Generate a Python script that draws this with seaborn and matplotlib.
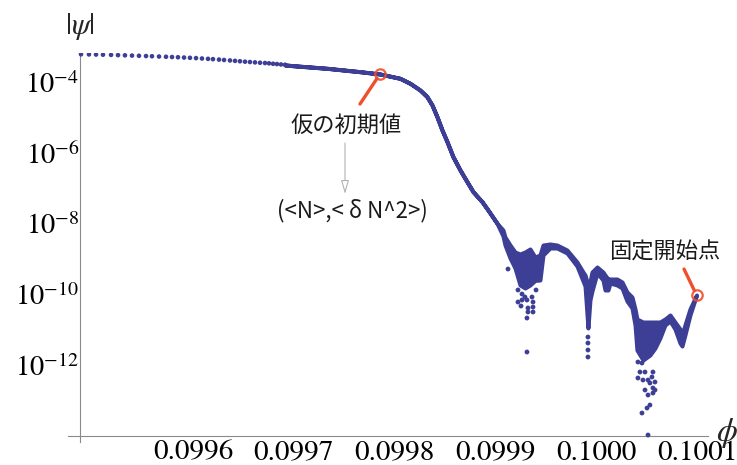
import numpy as np
import matplotlib
matplotlib.use("Agg")
import matplotlib.pyplot as plt
import seaborn as sns
from matplotlib.ticker import FixedLocator, FixedFormatter, LogLocator, NullFormatter

# ---- |psi| as a function of phi (values stored as log10 |psi|) ----
# isolated sample points at the start of the run
sparse_phi = [0.0994889, 0.0994968, 0.0995038, 0.0995107, 0.0995187, 0.0995256,
              0.0995325, 0.0995395, 0.0995464, 0.0995534, 0.0995593, 0.0995663,
              0.0995732, 0.0995792, 0.0995851, 0.0995911, 0.0995970, 0.0996030,
              0.0996089, 0.0996149, 0.0996198, 0.0996258, 0.0996308, 0.0996367,
              0.0996417, 0.0996466, 0.0996516, 0.0996565, 0.0996615, 0.0996665,
              0.0996714, 0.0996754, 0.0996794, 0.0996833, 0.0996873, 0.0996913]
sparse_log_psi = [-3.186, -3.189, -3.193, -3.197, -3.203, -3.209, -3.215, -3.222,
                  -3.228, -3.235, -3.241, -3.249, -3.256, -3.263, -3.270, -3.278,
                  -3.286, -3.294, -3.305, -3.315, -3.324, -3.336, -3.347, -3.360,
                  -3.372, -3.383, -3.395, -3.405, -3.415, -3.425, -3.433, -3.442,
                  -3.454, -3.463, -3.474, -3.482]

# densely sampled part: upper / lower envelope of the point cloud
curve_phi = [0.0996913, 0.0996992, 0.0997329, 0.0997657, 0.0997855, 0.0998053,
             0.0998153, 0.0998252, 0.0998321, 0.0998371, 0.0998420, 0.0998470,
             0.0998520, 0.0998579, 0.0998649, 0.0998718, 0.0998778, 0.0998867,
             0.0998926, 0.0999016,
             0.0999075, 0.0999095, 0.0999145, 0.0999194, 0.0999244, 0.0999293,
             0.0999343, 0.0999393, 0.0999442, 0.0999472, 0.0999541, 0.0999611,
             0.0999710, 0.0999809, 0.0999869, 0.0999889, 0.0999918, 0.0999938,
             0.0999958, 0.1000008, 0.1000067, 0.1000087, 0.1000117, 0.1000137,
             0.1000206, 0.1000256, 0.1000305, 0.1000355, 0.1000385, 0.1000404,
             0.1000464, 0.1000533, 0.1000583, 0.1000632, 0.1000682, 0.1000732,
             0.1000781, 0.1000831, 0.1000851, 0.1000880, 0.1000930, 0.1000995]
curve_log_top = [-3.488, -3.509, -3.583, -3.679, -3.745, -3.867,
                 -4.009, -4.199, -4.389, -4.624, -4.956, -5.333,
                 -5.665, -6.091, -6.468, -6.800, -7.084, -7.367,
                 -7.603, -7.980,
                 -8.170, -8.369, -8.596, -8.794, -8.851, -8.794,
                 -8.709, -8.936, -8.879, -8.596, -8.567, -8.596,
                 -8.738, -9.078, -9.362, -9.447, -9.730, -9.645,
                 -9.362, -9.220, -9.362, -9.447, -9.560, -9.560,
                 -9.560, -9.645, -9.929, -10.071, -10.411, -10.695,
                 -10.780, -10.780, -10.780, -10.780, -10.695, -10.582,
                 -10.780, -10.979, -11.149, -10.865, -10.411, -10.014]
curve_log_bottom = [-3.488, -3.509, -3.583, -3.679, -3.745, -3.867,
                    -4.009, -4.199, -4.389, -4.624, -4.956, -5.333,
                    -5.665, -6.091, -6.468, -6.800, -7.084, -7.367,
                    -7.603, -7.980,
                    -8.340, -8.596, -8.965, -9.248, -9.730, -9.816,
                    -9.730, -9.600, -9.589, -8.879, -8.681, -8.681,
                    -8.823, -9.191, -9.617, -9.759, -10.950, -10.156,
                    -9.901, -9.390, -9.589, -9.872, -9.872, -9.674,
                    -9.730, -9.816, -10.184, -10.383, -10.865, -11.574,
                    -11.858, -11.716, -11.518, -11.234, -10.865, -10.752,
                    -10.979, -11.376, -11.461, -11.149, -10.582, -10.014]

# stray points below the dense band
scatter_phi = [0.0999125, 0.0999224, 0.0999264, 0.0999293, 0.0999224, 0.0999264,
               0.0999313, 0.0999363, 0.0999373, 0.0999373, 0.0999373, 0.0999323,
               0.0999323, 0.0999313, 0.0999313, 0.0999403, 0.0999254,
               0.0999918, 0.0999918, 0.0999918, 0.0999918,
               0.1000414, 0.1000454, 0.1000434, 0.1000484, 0.1000414, 0.1000464,
               0.1000514, 0.1000553, 0.1000563, 0.1000533, 0.1000583, 0.1000484,
               0.1000563, 0.1000583, 0.1000514, 0.1000563, 0.1000533, 0.1000504,
               0.1000454, 0.1000514]
scatter_log_psi = [-9.277, -9.872, -9.986, -10.071, -10.213, -10.156,
                   -10.156, -10.071, -10.213, -10.355, -10.496, -10.383,
                   -10.496, -10.667, -11.631, -9.872, -10.326,
                   -11.206, -11.376, -11.574, -11.773,
                   -11.915, -11.943, -12.199, -12.199, -12.369, -12.426,
                   -12.426, -12.340, -12.199, -12.511, -12.482, -12.709,
                   -12.652, -12.709, -12.851, -12.794, -13.135, -13.220,
                   -13.362, -13.986]

# annotated points
marked_phi = [0.0997855, 0.1000995]
marked_log_psi = [-3.745, -10.014]
marked_labels = ["仮の初期値", "固定開始点"]
sub_label = "(<N>,< δ N^2>)"

x_major = [0.0995, 0.0996, 0.0997, 0.0998, 0.0999, 0.1000, 0.1001]
x_labels = ["", "0.0996", "0.0997", "0.0998", "0.0999", "0.1000", "0.1001"]
y_major_exp = [-14, -12, -10, -8, -6, -4]
y_labels = ["", r"$10^{-12}$", r"$10^{-10}$", r"$10^{-8}$", r"$10^{-6}$", r"$10^{-4}$"]

# ---- style ----
sns.set_theme(style="white")
plt.rcParams["mathtext.fontset"] = "stix"
plt.rcParams["font.family"] = ["STIXGeneral", "DejaVu Sans"]

POINT = "#3d3f96"
RED = "#ef4f2c"
AXIS = "#8a8a8a"
CJK = ["Noto Sans CJK JP", "DejaVu Sans"]

W, H = 737, 465
fig = plt.figure(figsize=(W / 100, H / 100), dpi=100)
ax = fig.add_axes([68 / W, 1 - 442 / H, (708 - 68) / W, (442 - 53) / H])
ax.set_yscale("log")
ax.set_xlim(0.099476, 0.1001109)
ax.set_ylim(10 ** -14.184, 10 ** -3.149)

# dense part of the solution as a filled envelope with a thick outline
psi_top = 10 ** np.array(curve_log_top)
psi_bot = 10 ** np.array(curve_log_bottom)
ax.fill_between(curve_phi, psi_bot, psi_top, facecolor=POINT, edgecolor=POINT,
                linewidth=2.9, joinstyle="round", zorder=3)

sns.scatterplot(x=sparse_phi, y=10 ** np.array(sparse_log_psi), ax=ax, s=11,
                color=POINT, edgecolor="none", linewidth=0, zorder=4)
sns.scatterplot(x=scatter_phi, y=10 ** np.array(scatter_log_psi), ax=ax, s=12,
                color=POINT, edgecolor="none", linewidth=0, zorder=4)

# highlighted points with leader lines
marked_psi = 10 ** np.array(marked_log_psi)
ax.plot(marked_phi, marked_psi, linestyle="none", marker="o", ms=7.5,
        mfc="none", mec=RED, mew=1.6, alpha=0.9, zorder=6)
for (px, py), off in zip(zip(marked_phi, marked_psi), [(-14.4, -21.6), (-9.0, 18.7)]):
    ax.annotate("", xy=(px, py), xytext=off, textcoords="offset points",
                arrowprops=dict(arrowstyle="-", color=RED, lw=2.4,
                                shrinkA=0, shrinkB=3.8), zorder=6)

fig.text(346 / W, 1 - 125 / H, marked_labels[0], family=CJK, fontsize=16,
         ha="center", va="center", color="#1a1a1a")
fig.text(664.5 / W, 1 - 252 / H, marked_labels[1], family=CJK, fontsize=16,
         ha="center", va="center", color="#1a1a1a")
fig.text(352 / W, 1 - 211 / H, sub_label, family=CJK, fontsize=16,
         ha="center", va="center", color="#1a1a1a")
ax.annotate("", xy=(345 / W, 1 - 194 / H), xytext=(345 / W, 1 - 143 / H),
            xycoords="figure fraction", textcoords="figure fraction",
            arrowprops=dict(arrowstyle="-|>,head_length=0.55,head_width=0.16",
                            mutation_scale=15, color="#b3b3b3", fc="white", lw=0.8,
                            shrinkA=0, shrinkB=0))

# axis labels
fig.text(80 / W, 1 - 27 / H, r"$|\psi|$", fontsize=22, ha="center", va="center")
fig.text(727 / W, 1 - 433 / H, r"$\phi$", fontsize=24, ha="center", va="center")

# axes in the style of crossing lines
for side in ("top", "right"):
    ax.spines[side].set_visible(False)
ax.spines["left"].set_position(("data", 0.099488))
ax.spines["bottom"].set_position(("data", 1e-14))
for side in ("left", "bottom"):
    ax.spines[side].set_color(AXIS)
    ax.spines[side].set_linewidth(0.8)

ax.xaxis.set_major_locator(FixedLocator(x_major))
ax.xaxis.set_major_formatter(FixedFormatter(x_labels))
ax.xaxis.set_minor_locator(FixedLocator(np.arange(0.09950, 0.100105, 0.00002)))
ax.yaxis.set_major_locator(FixedLocator([10.0 ** e for e in y_major_exp]))
ax.yaxis.set_major_formatter(FixedFormatter(y_labels))
ax.yaxis.set_minor_locator(LogLocator(base=10, subs=np.arange(1, 10), numticks=60))
ax.yaxis.set_minor_formatter(NullFormatter())

ax.tick_params(axis="both", which="major", direction="in", length=4.5, width=0.7,
               color=AXIS, labelcolor="black")
ax.tick_params(axis="both", which="minor", direction="in", length=2.5, width=0.6,
               color=AXIS)
ax.tick_params(axis="x", which="major", labelsize=21, pad=3.5)
ax.tick_params(axis="y", which="major", labelsize=20.5, pad=0.5)
ax.grid(False)

fig.savefig("out.png", dpi=100, facecolor="white")
